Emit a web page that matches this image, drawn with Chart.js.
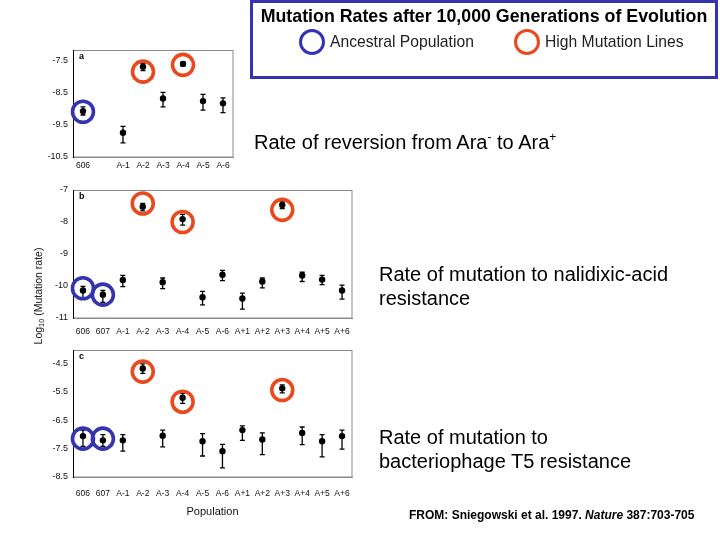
<!DOCTYPE html>
<html><head><meta charset="utf-8">
<script src="https://cdn.jsdelivr.net/npm/chart.js@4/dist/chart.umd.min.js"></script>
<style>
html,body{margin:0;padding:0;background:#fff;}
#wrap{position:relative;width:720px;height:540px;overflow:hidden;font-family:"Liberation Sans",Arial,sans-serif;}
canvas.panel{position:absolute;left:0;top:0;}
.t{position:absolute;white-space:nowrap;color:#000;}
.ring{position:absolute;box-sizing:border-box;width:26px;height:26px;border-radius:50%;border:3.5px solid;}
sup{font-size:0.6em;line-height:0;vertical-align:0.65em;}
sub{font-size:0.7em;line-height:0;vertical-align:-0.3em;}
</style></head><body>
<div id="wrap">
  <canvas id="ca" class="panel" width="720" height="540"></canvas>
  <canvas id="cb" class="panel" width="720" height="540"></canvas>
  <canvas id="cc" class="panel" width="720" height="540"></canvas>

  <div style="position:absolute;left:250px;top:0;width:468px;height:79px;box-sizing:border-box;border:3px solid #3434b0;"></div>
  <div class="t" style="left:250px;width:468px;text-align:center;top:6px;font-weight:bold;font-size:17.8px;line-height:20px;">Mutation Rates after 10,000 Generations of Evolution</div>
  <div class="ring" style="left:298.7px;top:28.7px;border-color:#3434b0;"></div>
  <div class="t" style="left:330px;top:32.7px;font-size:15.7px;line-height:18px;color:#222;">Ancestral Population</div>
  <div class="ring" style="left:513.7px;top:28.7px;border-color:#e84a1e;"></div>
  <div class="t" style="left:545px;top:32.7px;font-size:15.7px;line-height:18px;color:#222;">High Mutation Lines</div>

  <div class="t" style="left:254px;top:130px;font-size:20px;line-height:24px;">Rate of reversion from Ara<sup>-</sup> to Ara<sup>+</sup></div>
  <div class="t" style="left:379px;top:262px;font-size:20px;line-height:24px;">Rate of mutation to nalidixic-acid<br>resistance</div>
  <div class="t" style="left:379px;top:425px;font-size:20px;line-height:24px;">Rate of mutation to<br>bacteriophage T5 resistance</div>
  <div class="t" style="left:409px;top:508px;font-size:12px;line-height:14px;font-weight:bold;">FROM: Sniegowski et al. 1997. <i>Nature</i> 387:703-705</div>
  <div class="t" style="left:-32px;top:289px;width:140px;height:14px;line-height:14px;font-size:10.5px;text-align:center;transform:rotate(-90deg);color:#111;">Log<sub>10</sub> (Mutation rate)</div>
</div>
<script>
// ---------- data ----------
const categoriesA = ['606', '', 'A-1', 'A-2', 'A-3', 'A-4', 'A-5', 'A-6'];
const categoriesBC = ['606', '607', 'A-1', 'A-2', 'A-3', 'A-4', 'A-5', 'A-6', 'A+1', 'A+2', 'A+3', 'A+4', 'A+5', 'A+6'];

// a: reversion Ara- to Ara+
const reversionMean = [-9.08, null, -9.75, -7.71, -8.69, -7.62, -8.77, -8.84];
const reversionLow  = [-9.20, null, -10.06, -7.83, -8.95, -7.68, -9.05, -9.13];
const reversionHigh = [-8.95, null, -9.55, -7.60, -8.50, -7.56, -8.56, -8.67];

// b: nalidixic-acid resistance
const nalidixicMean = [-10.14, -10.27, -9.81, -7.52, -9.88, -7.91, -10.35, -9.65, -10.39, -9.86, -7.47, -9.67, -9.80, -10.14];
const nalidixicLow  = [-10.39, -10.51, -10.02, -7.65, -10.08, -8.10, -10.59, -9.83, -10.72, -10.06, -7.58, -9.86, -9.96, -10.41];
const nalidixicHigh = [-10.01, -10.14, -9.67, -7.42, -9.75, -7.76, -10.17, -9.51, -10.22, -9.75, -7.37, -9.57, -9.67, -9.97];

// c: bacteriophage T5 resistance
const phageMean = [-7.06, -7.21, -7.21, -4.68, -7.05, -5.71, -7.24, -7.59, -6.85, -7.18, -5.38, -6.95, -7.24, -7.06];
const phageLow  = [-7.42, -7.42, -7.59, -4.85, -7.44, -5.91, -7.76, -8.18, -7.21, -7.71, -5.54, -7.36, -7.79, -7.52];
const phageHigh = [-6.85, -7.01, -7.01, -4.52, -6.85, -5.56, -6.97, -7.35, -6.70, -6.95, -5.26, -6.74, -7.01, -6.85];

// highlighted populations (ring centres)
const ancestralA = [{x: '606', y: -9.10}];
const highA = [{x: 'A-2', y: -7.86}, {x: 'A-4', y: -7.65}];
const ancestralB = [{x: '606', y: -10.07}, {x: '607', y: -10.27}];
const highB = [{x: 'A-2', y: -7.42}, {x: 'A-4', y: -8.00}, {x: 'A+3', y: -7.62}];
const ancestralC = [{x: '606', y: -7.15}, {x: '607', y: -7.15}];
const highC = [{x: 'A-2', y: -4.79}, {x: 'A-4', y: -5.85}, {x: 'A+3', y: -5.44}];

// tick labels
const ticksA = [-7.5, -8.5, -9.5, -10.5];
const ticksB = [-7, -8, -9, -10, -11];
const ticksC = [-4.5, -5.5, -6.5, -7.5, -8.5];

// ---------- drawing ----------
const FONT = "'Liberation Sans', Arial, sans-serif";
const BLUE = '#3434b0', ORANGE = '#e84a1e';

const errorBars = {
  id: 'errorBars',
  beforeDatasetsDraw(chart) {
    const ds = chart.data.datasets[0];
    const meta = chart.getDatasetMeta(0);
    const ys = chart.scales.y;
    const ctx = chart.ctx;
    ctx.save();
    ctx.strokeStyle = '#000';
    ctx.lineWidth = 1.3;
    meta.data.forEach((pt, i) => {
      if (ds.data[i] == null) return;
      const x = pt.x;
      const y1 = ys.getPixelForValue(ds.errLow[i]);
      const y2 = ys.getPixelForValue(ds.errHigh[i]);
      ctx.beginPath();
      ctx.moveTo(x, y1); ctx.lineTo(x, y2);
      ctx.moveTo(x - 2.5, y1); ctx.lineTo(x + 2.5, y1);
      ctx.moveTo(x - 2.5, y2); ctx.lineTo(x + 2.5, y2);
      ctx.stroke();
    });
    ctx.restore();
  }
};

const frame = {
  id: 'frame',
  beforeDatasetsDraw(chart, args, opts) {
    const {left, top, right, bottom} = chart.chartArea;
    const ctx = chart.ctx;
    ctx.save();
    ctx.strokeStyle = '#8a8a8a';
    ctx.lineWidth = 1;
    ctx.strokeRect(left + 0.5, top + 0.5, right - left - 0.5, bottom - top - 0.5);
    ctx.strokeStyle = '#000';
    ctx.beginPath(); ctx.moveTo(left + 0.5, top); ctx.lineTo(left + 0.5, bottom + 1); ctx.stroke();
    ctx.fillStyle = '#000';
    ctx.font = 'bold 9px ' + FONT;
    ctx.textBaseline = 'top';
    ctx.textAlign = 'left';
    ctx.fillText(opts.letter, left + 6, top + 2);
    ctx.restore();
  }
};

function makePanel(id, cats, mean, low, high, anc, hi, yMin, yMax, yTicks, box, letter, xPad, xH, xTitle) {
  return new Chart(document.getElementById(id), {
    type: 'line',
    data: {
      labels: cats,
      datasets: [
        {data: mean, errLow: low, errHigh: high, showLine: false, pointRadius: 3.2, pointHoverRadius: 3.2,
         pointBackgroundColor: '#000', pointBorderWidth: 0, spanGaps: false},
        {data: anc, showLine: false, pointRadius: 10.5, pointHoverRadius: 10.5, pointBorderWidth: 3.6,
         pointBorderColor: BLUE, pointBackgroundColor: 'rgba(0,0,0,0)', clip: false},
        {data: hi, showLine: false, pointRadius: 10.5, pointHoverRadius: 10.5, pointBorderWidth: 3.6,
         pointBorderColor: ORANGE, pointBackgroundColor: 'rgba(0,0,0,0)', clip: false}
      ]
    },
    options: {
      responsive: false,
      animation: false,
      events: [],
      layout: {autoPadding: false, padding: {left: 0, top: box.top, right: 720 - box.right, bottom: 540 - box.bottom - xH}},
      plugins: {legend: {display: false}, tooltip: {enabled: false}, frame: {letter: letter}},
      scales: {
        x: {
          type: 'category', offset: true,
          grid: {display: false, drawTicks: false},
          border: {display: true, color: '#8a8a8a'},
          ticks: {padding: xPad, autoSkip: false, maxRotation: 0, color: '#111', font: {family: FONT, size: 8.5}},
          title: xTitle ? {display: true, text: xTitle, color: '#111', font: {family: FONT, size: 11}, padding: {top: 0, bottom: 8}} : {display: false},
          afterFit(s) { s.height = xH; }
        },
        y: {
          min: yMin, max: yMax,
          grid: {display: false, drawTicks: false},
          border: {display: true, color: '#000'},
          ticks: {padding: 5, color: '#111', font: {family: FONT, size: 9}, callback: v => String(v)},
          afterBuildTicks(s) { s.ticks = yTicks.map(v => ({value: v})); },
          afterFit(s) { s.width = 73; }
        }
      }
    },
    plugins: [frame, errorBars]
  });
}

makePanel('ca', categoriesA, reversionMean, reversionLow, reversionHigh, ancestralA, highA,
  -10.5, -7.19, ticksA, {top: 50, bottom: 157, right: 233}, 'a', 4, 30, null);
makePanel('cb', categoriesBC, nalidixicMean, nalidixicLow, nalidixicHigh, ancestralB, highB,
  -11, -7, ticksB, {top: 190, bottom: 318, right: 352}, 'b', 9, 30, null);
makePanel('cc', categoriesBC, phageMean, phageLow, phageHigh, ancestralC, highC,
  -8.5, -4.03, ticksC, {top: 350, bottom: 477, right: 352}, 'c', 12, 50, 'Population');
</script>
</body></html>
